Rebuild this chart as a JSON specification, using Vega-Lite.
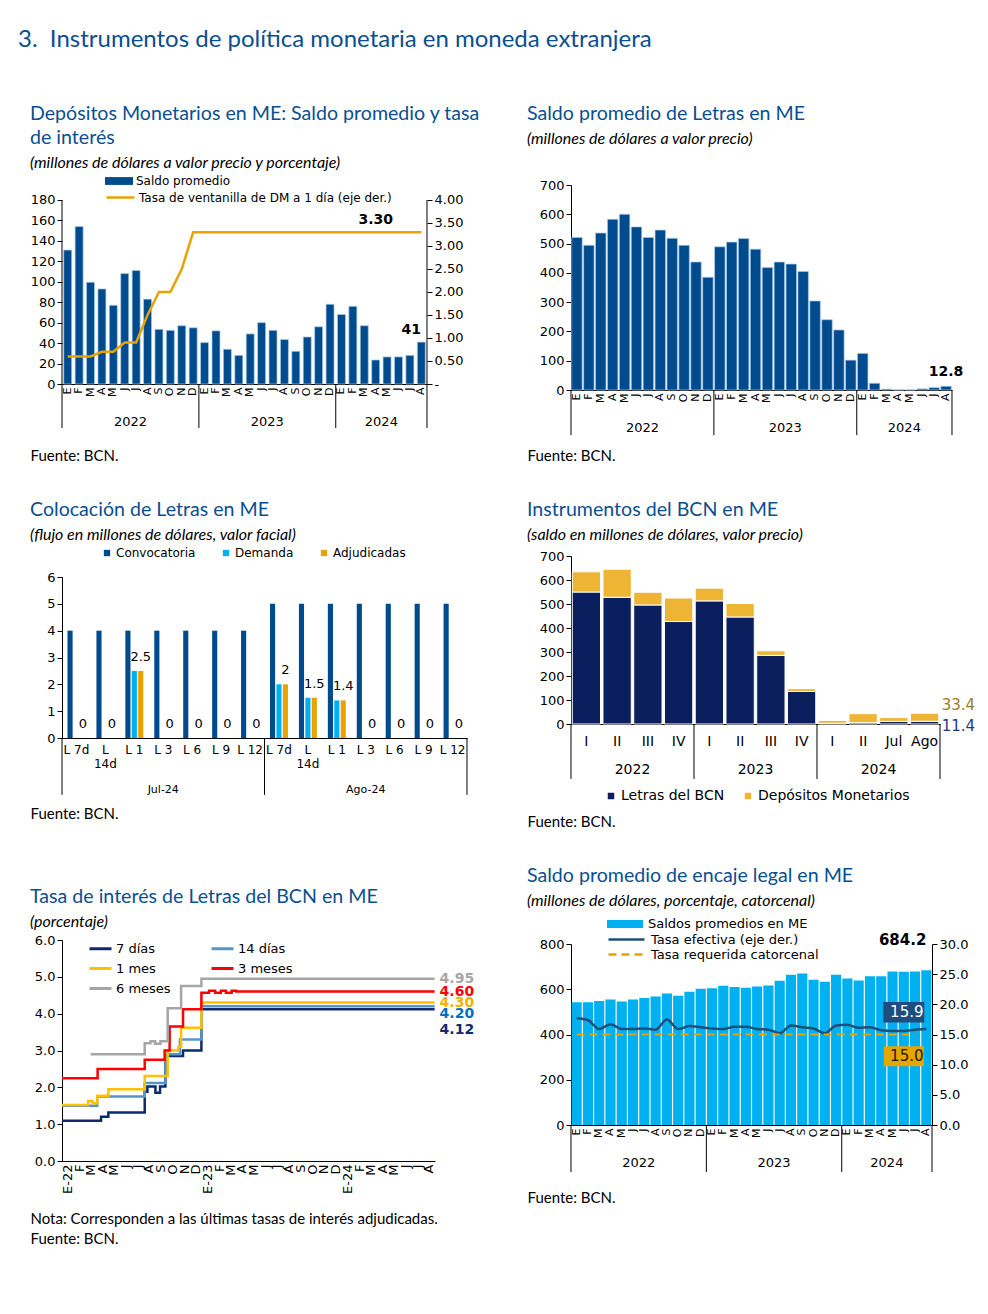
{
"$schema":"https://vega.github.io/schema/vega-lite/v6.json",
"background":"white",
"padding":{"left":18,"top":28,"right":5,"bottom":5},
"title":{"text":"3.\u00a0 Instrumentos de política monetaria en moneda extranjera","anchor":"start","font":"Lato","fontSize":24,"fontWeight":"normal","color":"#0A4F8F","offset":52,"dx":-12},
"config":{
 "view":{"stroke":null},
 "font":"DejaVu Sans",
 "axis":{"labelFont":"DejaVu Sans","labelFontSize":13,"labelColor":"#000","domainColor":"#000","tickColor":"#000","tickSize":5,"labelPadding":2,"grid":false,"titleFont":"Lato","titleFontSize":15,"titleFontWeight":"normal","titleColor":"#000"},
 "legend":{"labelFont":"DejaVu Sans","labelFontSize":12,"labelColor":"#000","labelLimit":400},
 "text":{"font":"DejaVu Sans"},
 "title":{"font":"Lato","fontSize":19.6,"fontWeight":"normal","color":"#0A4F8F","anchor":"start","lineHeight":24,"subtitleFont":"Lato","subtitleFontSize":16,"subtitleFontStyle":"italic","subtitleColor":"#000","subtitlePadding":6}
},
"columns":2,
"align":{"row":"none","column":"each"},
"spacing":{"row":37,"column":46},
"resolve":{"scale":{"color":"independent","fill":"independent","stroke":"independent","strokeDash":"independent"}},
"concat":[
 {
  "width":365,"height":199,
  "title":{"text":["Depósitos Monetarios en ME: Saldo promedio y tasa","de interés"],"subtitle":"(millones de dólares a valor precio y porcentaje)","offset":-5},
  "data":{"values":[
   {"m":"2022-01","saldo":131,"tasa":0.6},{"m":"2022-02","saldo":154,"tasa":0.6},{"m":"2022-03","saldo":99.5,"tasa":0.6},{"m":"2022-04","saldo":93,"tasa":0.7},
   {"m":"2022-05","saldo":77,"tasa":0.7},{"m":"2022-06","saldo":108,"tasa":0.9},{"m":"2022-07","saldo":111,"tasa":0.9},{"m":"2022-08","saldo":83,"tasa":1.5},
   {"m":"2022-09","saldo":53.5,"tasa":2.0},{"m":"2022-10","saldo":52.5,"tasa":2.0},{"m":"2022-11","saldo":57,"tasa":2.5},{"m":"2022-12","saldo":55,"tasa":3.3},
   {"m":"2023-01","saldo":40.5,"tasa":3.3},{"m":"2023-02","saldo":52,"tasa":3.3},{"m":"2023-03","saldo":34,"tasa":3.3},{"m":"2023-04","saldo":28,"tasa":3.3},
   {"m":"2023-05","saldo":49,"tasa":3.3},{"m":"2023-06","saldo":60,"tasa":3.3},{"m":"2023-07","saldo":52.5,"tasa":3.3},{"m":"2023-08","saldo":43.5,"tasa":3.3},
   {"m":"2023-09","saldo":32,"tasa":3.3},{"m":"2023-10","saldo":46,"tasa":3.3},{"m":"2023-11","saldo":56,"tasa":3.3},{"m":"2023-12","saldo":78,"tasa":3.3},
   {"m":"2024-01","saldo":68,"tasa":3.3},{"m":"2024-02","saldo":76,"tasa":3.3},{"m":"2024-03","saldo":57,"tasa":3.3},{"m":"2024-04","saldo":23.5,"tasa":3.3},
   {"m":"2024-05","saldo":26.5,"tasa":3.3},{"m":"2024-06","saldo":26.5,"tasa":3.3},{"m":"2024-07","saldo":28,"tasa":3.3},{"m":"2024-08","saldo":41,"tasa":3.3}
  ]},
  "layer":[
    {"mark":{"type":"bar","stroke":"#A9CBEA","strokeWidth":0.7},
     "encoding":{
      "x":{"field":"m","type":"ordinal","scale":{"paddingInner":0.3,"paddingOuter":0.15},"axis":{"orient":"bottom","title":"Fuente: BCN.","titleX":-32,"titleY":64,"titleAlign":"left","titleBaseline":"top","titleAngle":0,"ticks":false,"labelAngle":-90,"labelPadding":3,"labelFontSize":11,"labelOverlap":false,"labelExpr":"['E','F','M','A','M','J','J','A','S','O','N','D'][toNumber(substring(datum.value,5,7))-1]"}},
      "y":{"field":"saldo","type":"quantitative","scale":{"domain":[0,194.67]},"axis":{"orient":"left","title":null,"domain":false,"values":[0,20,40,60,80,100,120,140,160,180]}},
      "fill":{"datum":"Saldo promedio","type":"nominal","scale":{"range":["#004B8D"]},"legend":{"orient":"none","legendX":43,"legendY":-18,"title":null,"symbolType":"M-1,-0.28H1V0.28H-1Z","symbolSize":784,"symbolStrokeWidth":0,"labelOffset":3}}
     }},
    {"transform":[{"filter":"datum.m=='2024-08'"}],"mark":{"type":"text","fontWeight":"bold","fontSize":14,"baseline":"bottom","dx":-10,"dy":-5},
     "encoding":{"x":{"field":"m","type":"ordinal","axis":null},"y":{"field":"saldo","type":"quantitative","scale":{"domain":[0,194.67]},"axis":null},"text":{"field":"saldo","type":"quantitative","format":".0f"}}},
    {"transform":[{"filter":"datum.m=='2022-01'"}],"mark":{"type":"rule","color":"#000","strokeWidth":1},
     "encoding":{"x":{"field":"m","type":"ordinal","bandPosition":-0.214,"axis":null},"y":{"datum":180,"type":"quantitative","scale":{"domain":[0,194.67]},"axis":null},"y2":{"datum":-43}}},
    {"transform":[{"filter":"datum.m=='2023-01' || datum.m=='2024-01'"}],"mark":{"type":"rule","color":"#000","strokeWidth":1},
     "encoding":{"x":{"field":"m","type":"ordinal","bandPosition":-0.214,"axis":null},"y":{"datum":0,"type":"quantitative","scale":{"domain":[0,194.67]},"axis":null},"y2":{"datum":-43}}},
    {"transform":[{"filter":"datum.m=='2024-08'"}],"mark":{"type":"rule","color":"#000","strokeWidth":1},
     "encoding":{"x":{"field":"m","type":"ordinal","bandPosition":1.214,"axis":null},"y":{"datum":180,"type":"quantitative","scale":{"domain":[0,194.67]},"axis":null},"y2":{"datum":-43}}},
    {"transform":[{"filter":"indexof(['2022-07','2023-07','2024-05'],datum.m)>=0"},{"calculate":"substring(datum.m,0,4)","as":"yr"}],"mark":{"type":"text","fontSize":13,"baseline":"middle"},
     "encoding":{"x":{"field":"m","type":"ordinal","bandPosition":-0.214,"axis":null},"y":{"datum":-37,"type":"quantitative","scale":{"domain":[0,194.67]},"axis":null},"text":{"field":"yr","type":"nominal"}}},
    {"mark":{"type":"line","strokeWidth":2.5},"encoding":{
      "x":{"field":"m","type":"ordinal","axis":null},
      "y":{"field":"tasa","type":"quantitative","scale":{"domain":[0,4.326]},"axis":{"orient":"right","title":null,"domain":false,"values":[0,0.5,1,1.5,2,2.5,3,3.5,4],"labelExpr":"datum.value==0?'-':format(datum.value,'.2f')"}},
      "stroke":{"datum":"Tasa de ventanilla de DM a 1 día (eje der.)","type":"nominal","scale":{"range":["#E8A202"]},"legend":{"orient":"none","legendX":43,"legendY":-3,"title":null,"symbolType":"stroke","symbolSize":784,"symbolStrokeWidth":2.5,"labelOffset":3}}
    }},
    {"transform":[{"filter":"datum.m=='2024-04'"}],"mark":{"type":"text","fontWeight":"bold","fontSize":14,"baseline":"bottom","dy":-5},
     "encoding":{"x":{"field":"m","type":"ordinal","axis":null},"y":{"field":"tasa","type":"quantitative","scale":{"domain":[0,4.326]},"axis":null},"text":{"field":"tasa","type":"quantitative","format":".2f"}}}
  ],
  "resolve":{"scale":{"y":"independent"},"axis":{"x":"independent","y":"independent"}}
 },
 {
  "width":381,"height":205,
  "title":{"text":"Saldo promedio de Letras en ME","subtitle":"(millones de dólares a valor precio)","offset":31},
  "data":{"values":[
   {"m":"2022-01","saldo":521},{"m":"2022-02","saldo":494},{"m":"2022-03","saldo":536},{"m":"2022-04","saldo":583},{"m":"2022-05","saldo":600},{"m":"2022-06","saldo":557},
   {"m":"2022-07","saldo":521},{"m":"2022-08","saldo":546},{"m":"2022-09","saldo":518},{"m":"2022-10","saldo":494},{"m":"2022-11","saldo":437},{"m":"2022-12","saldo":385},
   {"m":"2023-01","saldo":489},{"m":"2023-02","saldo":505},{"m":"2023-03","saldo":517},{"m":"2023-04","saldo":481},{"m":"2023-05","saldo":418},{"m":"2023-06","saldo":437},
   {"m":"2023-07","saldo":430},{"m":"2023-08","saldo":405},{"m":"2023-09","saldo":304},{"m":"2023-10","saldo":240},{"m":"2023-11","saldo":205},{"m":"2023-12","saldo":102},
   {"m":"2024-01","saldo":125},{"m":"2024-02","saldo":23},{"m":"2024-03","saldo":3},{"m":"2024-04","saldo":0.5},{"m":"2024-05","saldo":0.5},{"m":"2024-06","saldo":4},
   {"m":"2024-07","saldo":8},{"m":"2024-08","saldo":12.8}
  ]},
  "layer":[
   {"mark":{"type":"bar","color":"#004B8D","stroke":"#A9CBEA","strokeWidth":0.7},
    "encoding":{
     "x":{"field":"m","type":"ordinal","scale":{"paddingInner":0.12,"paddingOuter":0.06},"axis":{"orient":"bottom","title":"Fuente: BCN.","titleX":-44,"titleY":58,"titleAlign":"left","titleBaseline":"top","titleAngle":0,"ticks":false,"labelAngle":-90,"labelPadding":3,"labelFontSize":11,"labelOverlap":false,"labelExpr":"['E','F','M','A','M','J','J','A','S','O','N','D'][toNumber(substring(datum.value,5,7))-1]"}},
     "y":{"field":"saldo","type":"quantitative","scale":{"domain":[0,700]},"axis":{"title":null,"values":[0,100,200,300,400,500,600,700]}}}},
   {"transform":[{"filter":"datum.m=='2024-08'"}],"mark":{"type":"text","fontWeight":"bold","fontSize":14,"baseline":"bottom","dy":-7},
    "encoding":{"x":{"field":"m","type":"ordinal","axis":null},"y":{"field":"saldo","type":"quantitative","axis":null},"text":{"field":"saldo","type":"quantitative","format":".1f"}}},
   {"transform":[{"filter":"indexof(['2022-01','2023-01','2024-01'],datum.m)>=0"}],"mark":{"type":"rule","color":"#000","strokeWidth":1},
    "encoding":{"x":{"field":"m","type":"ordinal","bandPosition":-0.068,"axis":null},"y":{"datum":0,"type":"quantitative","axis":null},"y2":{"datum":-154}}},
   {"transform":[{"filter":"datum.m=='2024-08'"}],"mark":{"type":"rule","color":"#000","strokeWidth":1},
    "encoding":{"x":{"field":"m","type":"ordinal","bandPosition":1.068,"axis":null},"y":{"datum":0,"type":"quantitative","axis":null},"y2":{"datum":-154}}},
   {"transform":[{"filter":"indexof(['2022-07','2023-07','2024-05'],datum.m)>=0"},{"calculate":"substring(datum.m,0,4)","as":"yr"}],"mark":{"type":"text","fontSize":13,"baseline":"middle"},
    "encoding":{"x":{"field":"m","type":"ordinal","bandPosition":-0.068,"axis":null},"y":{"datum":-130,"type":"quantitative","axis":null},"text":{"field":"yr","type":"nominal"}}}
  ],
  "resolve":{"axis":{"x":"independent","y":"independent"}}
 },
 {
  "width":405,"height":161,
  "title":{"text":"Colocación de Letras en ME","subtitle":"(flujo en millones de dólares, valor facial)","offset":3},
  "data":{"values":[
   {"k":"Jul-24|L 7d","s":"Convocatoria","v":4},{"k":"Jul-24|L 7d","s":"Demanda","v":0},{"k":"Jul-24|L 7d","s":"Adjudicadas","v":0},
   {"k":"Jul-24|L 14d","s":"Convocatoria","v":4},{"k":"Jul-24|L 14d","s":"Demanda","v":0},{"k":"Jul-24|L 14d","s":"Adjudicadas","v":0},
   {"k":"Jul-24|L 1","s":"Convocatoria","v":4},{"k":"Jul-24|L 1","s":"Demanda","v":2.5},{"k":"Jul-24|L 1","s":"Adjudicadas","v":2.5},
   {"k":"Jul-24|L 3","s":"Convocatoria","v":4},{"k":"Jul-24|L 3","s":"Demanda","v":0},{"k":"Jul-24|L 3","s":"Adjudicadas","v":0},
   {"k":"Jul-24|L 6","s":"Convocatoria","v":4},{"k":"Jul-24|L 6","s":"Demanda","v":0},{"k":"Jul-24|L 6","s":"Adjudicadas","v":0},
   {"k":"Jul-24|L 9","s":"Convocatoria","v":4},{"k":"Jul-24|L 9","s":"Demanda","v":0},{"k":"Jul-24|L 9","s":"Adjudicadas","v":0},
   {"k":"Jul-24|L 12","s":"Convocatoria","v":4},{"k":"Jul-24|L 12","s":"Demanda","v":0},{"k":"Jul-24|L 12","s":"Adjudicadas","v":0},
   {"k":"Ago-24|L 7d","s":"Convocatoria","v":5},{"k":"Ago-24|L 7d","s":"Demanda","v":2},{"k":"Ago-24|L 7d","s":"Adjudicadas","v":2},
   {"k":"Ago-24|L 14d","s":"Convocatoria","v":5},{"k":"Ago-24|L 14d","s":"Demanda","v":1.5},{"k":"Ago-24|L 14d","s":"Adjudicadas","v":1.5},
   {"k":"Ago-24|L 1","s":"Convocatoria","v":5},{"k":"Ago-24|L 1","s":"Demanda","v":1.4},{"k":"Ago-24|L 1","s":"Adjudicadas","v":1.4},
   {"k":"Ago-24|L 3","s":"Convocatoria","v":5},{"k":"Ago-24|L 3","s":"Demanda","v":0},{"k":"Ago-24|L 3","s":"Adjudicadas","v":0},
   {"k":"Ago-24|L 6","s":"Convocatoria","v":5},{"k":"Ago-24|L 6","s":"Demanda","v":0},{"k":"Ago-24|L 6","s":"Adjudicadas","v":0},
   {"k":"Ago-24|L 9","s":"Convocatoria","v":5},{"k":"Ago-24|L 9","s":"Demanda","v":0},{"k":"Ago-24|L 9","s":"Adjudicadas","v":0},
   {"k":"Ago-24|L 12","s":"Convocatoria","v":5},{"k":"Ago-24|L 12","s":"Demanda","v":0},{"k":"Ago-24|L 12","s":"Adjudicadas","v":0}
  ]},
  "layer":[
   {"mark":{"type":"bar"},"encoding":{
     "x":{"field":"k","type":"nominal","scale":{"domain":["Jul-24|L 7d","Jul-24|L 14d","Jul-24|L 1","Jul-24|L 3","Jul-24|L 6","Jul-24|L 9","Jul-24|L 12","Ago-24|L 7d","Ago-24|L 14d","Ago-24|L 1","Ago-24|L 3","Ago-24|L 6","Ago-24|L 9","Ago-24|L 12"],"paddingInner":0.38,"paddingOuter":0.19},
          "axis":{"orient":"bottom","title":"Fuente: BCN.","titleX":-32,"titleY":68,"titleAlign":"left","titleBaseline":"top","titleAngle":0,"ticks":false,"labelAngle":0,"labelPadding":6,"labelFontSize":12,"labelLineHeight":14,"labelOverlap":false,"labelExpr":"indexof(datum.value,'14d')>=0 ? ['L','14d'] : substring(datum.value,7)"}},
     "xOffset":{"field":"s","type":"nominal","scale":{"domain":["Convocatoria","Demanda","Adjudicadas"],"paddingInner":0.2}},
     "y":{"field":"v","type":"quantitative","scale":{"domain":[0,6]},"axis":{"title":null,"values":[0,1,2,3,4,5,6]}},
     "color":{"field":"s","type":"nominal","scale":{"domain":["Convocatoria","Demanda","Adjudicadas"],"range":["#004B8D","#00B0F0","#E8A202"]},"legend":{"orient":"none","direction":"horizontal","legendX":39,"legendY":-30,"title":null,"symbolType":"square","symbolSize":40,"columnPadding":24,"labelOffset":3}}
   }},
   {"transform":[{"filter":"datum.s=='Adjudicadas'"}],"mark":{"type":"text","fontSize":13,"baseline":"bottom","dy":-7},
    "encoding":{"x":{"field":"k","type":"nominal","axis":null},"xOffset":{"field":"s","type":"nominal"},"y":{"field":"v","type":"quantitative","axis":null},"text":{"field":"v","type":"quantitative"}}},
   {"transform":[{"filter":"datum.s=='Convocatoria' && indexof(['Jul-24|L 7d','Ago-24|L 7d'],datum.k)>=0"}],"mark":{"type":"rule","color":"#000","strokeWidth":1},
    "encoding":{"x":{"field":"k","type":"nominal","bandPosition":-0.306,"axis":null},"y":{"datum":0,"type":"quantitative","axis":null},"y2":{"datum":-2.12}}},
   {"transform":[{"filter":"datum.s=='Convocatoria' && datum.k=='Ago-24|L 12'"}],"mark":{"type":"rule","color":"#000","strokeWidth":1},
    "encoding":{"x":{"field":"k","type":"nominal","bandPosition":1.306,"axis":null},"y":{"datum":0,"type":"quantitative","axis":null},"y2":{"datum":-2.12}}},
   {"transform":[{"filter":"datum.s=='Convocatoria' && indexof(['Jul-24|L 3','Ago-24|L 3'],datum.k)>=0"},{"calculate":"substring(datum.k,0,6)","as":"grp"}],"mark":{"type":"text","fontSize":11,"baseline":"middle"},
    "encoding":{"x":{"field":"k","type":"nominal","axis":null},"y":{"datum":-1.94,"type":"quantitative","axis":null},"text":{"field":"grp","type":"nominal"}}}
  ],
  "resolve":{"axis":{"x":"independent","y":"independent"}}
 },
 {
  "width":369,"height":168,
  "title":{"text":"Instrumentos del BCN en ME","subtitle":"(saldo en millones de dólares, valor precio)","offset":6},
  "data":{"values":[
   {"k":"2022|I","s":"Letras del BCN","v":550},{"k":"2022|I","s":"Depósitos Monetarios","v":84},
   {"k":"2022|II","s":"Letras del BCN","v":528},{"k":"2022|II","s":"Depósitos Monetarios","v":117},
   {"k":"2022|III","s":"Letras del BCN","v":496},{"k":"2022|III","s":"Depósitos Monetarios","v":53},
   {"k":"2022|IV","s":"Letras del BCN","v":427},{"k":"2022|IV","s":"Depósitos Monetarios","v":98},
   {"k":"2023|I","s":"Letras del BCN","v":513},{"k":"2023|I","s":"Depósitos Monetarios","v":53},
   {"k":"2023|II","s":"Letras del BCN","v":446},{"k":"2023|II","s":"Depósitos Monetarios","v":56},
   {"k":"2023|III","s":"Letras del BCN","v":286},{"k":"2023|III","s":"Depósitos Monetarios","v":19},
   {"k":"2023|IV","s":"Letras del BCN","v":135.5},{"k":"2023|IV","s":"Depósitos Monetarios","v":11.5},
   {"k":"2024|I","s":"Letras del BCN","v":3},{"k":"2024|I","s":"Depósitos Monetarios","v":12},
   {"k":"2024|II","s":"Letras del BCN","v":5.6},{"k":"2024|II","s":"Depósitos Monetarios","v":37.4},
   {"k":"2024|Jul","s":"Letras del BCN","v":11},{"k":"2024|Jul","s":"Depósitos Monetarios","v":15.5},
   {"k":"2024|Ago","s":"Letras del BCN","v":11.4},{"k":"2024|Ago","s":"Depósitos Monetarios","v":33.4}
  ]},
  "layer":[
   {"mark":{"type":"bar","stroke":"white","strokeWidth":1},"encoding":{
     "x":{"field":"k","type":"nominal","scale":{"domain":["2022|I","2022|II","2022|III","2022|IV","2023|I","2023|II","2023|III","2023|IV","2024|I","2024|II","2024|Jul","2024|Ago"],"paddingInner":0.08,"paddingOuter":0.04},
          "axis":{"orient":"bottom","title":"Fuente: BCN.","titleX":-44,"titleY":90,"titleAlign":"left","titleBaseline":"top","titleAngle":0,"ticks":false,"labelAngle":0,"labelPadding":10,"labelFontSize":14,"labelOverlap":false,"labelExpr":"substring(datum.value,5)"}},
     "y":{"field":"v","type":"quantitative","stack":"zero","scale":{"domain":[0,700]},"axis":{"title":null,"values":[0,100,200,300,400,500,600,700]}},
     "color":{"field":"s","type":"nominal","scale":{"domain":["Letras del BCN","Depósitos Monetarios"],"range":["#0B1F5E","#EEB534"]},"legend":{"orient":"none","direction":"horizontal","legendX":33,"legendY":233,"title":null,"symbolType":"square","symbolSize":64,"labelFontSize":14,"columnPadding":16,"labelOffset":3}},
     "order":{"field":"s","type":"nominal","sort":"descending"}
   }},
   {"transform":[{"joinaggregate":[{"op":"sum","field":"v","as":"tot"}],"groupby":["k"]},{"filter":"datum.k=='2024|Ago' && datum.s=='Depósitos Monetarios'"}],
    "mark":{"type":"text","fontSize":15,"align":"left","dx":17,"dy":-8,"color":"#9C7A2A"},
    "encoding":{"x":{"field":"k","type":"nominal","axis":null},"y":{"field":"tot","type":"quantitative","axis":null},"text":{"field":"v","type":"quantitative","format":".1f"}}},
   {"transform":[{"filter":"datum.k=='2024|Ago' && datum.s=='Letras del BCN'"}],
    "mark":{"type":"text","fontSize":15,"align":"left","dx":17,"dy":5,"color":"#1F3A7A"},
    "encoding":{"x":{"field":"k","type":"nominal","axis":null},"y":{"field":"v","type":"quantitative","axis":null},"text":{"field":"v","type":"quantitative","format":".1f"}}},
   {"transform":[{"filter":"datum.s=='Letras del BCN' && indexof(['2022|I','2023|I','2024|I'],datum.k)>=0"}],"mark":{"type":"rule","color":"#000","strokeWidth":1},
    "encoding":{"x":{"field":"k","type":"nominal","bandPosition":-0.0435,"axis":null},"y":{"datum":0,"type":"quantitative","axis":null},"y2":{"datum":-229}}},
   {"transform":[{"filter":"datum.s=='Letras del BCN' && datum.k=='2024|Ago'"}],"mark":{"type":"rule","color":"#000","strokeWidth":1},
    "encoding":{"x":{"field":"k","type":"nominal","bandPosition":1.0435,"axis":null},"y":{"datum":0,"type":"quantitative","axis":null},"y2":{"datum":-229}}},
   {"transform":[{"filter":"datum.s=='Letras del BCN' && indexof(['2022|III','2023|III','2024|Jul'],datum.k)>=0"},{"calculate":"substring(datum.k,0,4)","as":"yr"}],"mark":{"type":"text","fontSize":14,"baseline":"middle"},
    "encoding":{"x":{"field":"k","type":"nominal","bandPosition":-0.0435,"axis":null},"y":{"datum":-192,"type":"quantitative","axis":null},"text":{"field":"yr","type":"nominal"}}}
  ],
  "resolve":{"axis":{"x":"independent","y":"independent"}}
 },
 {
  "width":373,"height":221,
  "title":{"text":"Tasa de interés de Letras del BCN en ME","subtitle":"(porcentaje)","offset":3},
  "data":{"values":[
   {"s":"7 días","d":"2022-01-01","v":1.09},{"s":"7 días","d":"2022-04-13","v":1.2},{"s":"7 días","d":"2022-05-02","v":1.32},{"s":"7 días","d":"2022-08-05","v":1.88},
   {"s":"7 días","d":"2022-08-12","v":2.02},{"s":"7 días","d":"2022-09-02","v":1.85},{"s":"7 días","d":"2022-09-14","v":2.02},{"s":"7 días","d":"2022-09-28","v":2.85},
   {"s":"7 días","d":"2022-11-13","v":3.0},{"s":"7 días","d":"2022-12-31","v":4.12},{"s":"7 días","d":"2024-08-31","v":4.12},
   {"s":"14 días","d":"2022-01-01","v":1.5},{"s":"14 días","d":"2022-04-03","v":1.75},{"s":"14 días","d":"2022-08-05","v":2.12},{"s":"14 días","d":"2022-09-28","v":2.9},
   {"s":"14 días","d":"2022-11-05","v":3.3},{"s":"14 días","d":"2022-12-31","v":4.2},{"s":"14 días","d":"2024-08-31","v":4.2},
   {"s":"1 mes","d":"2022-01-01","v":1.52},{"s":"1 mes","d":"2022-03-10","v":1.63},{"s":"1 mes","d":"2022-03-22","v":1.57},{"s":"1 mes","d":"2022-04-03","v":1.77},
   {"s":"1 mes","d":"2022-05-02","v":1.95},{"s":"1 mes","d":"2022-08-05","v":2.31},{"s":"1 mes","d":"2022-10-04","v":3.0},{"s":"1 mes","d":"2022-11-01","v":3.1},
   {"s":"1 mes","d":"2022-11-08","v":3.62},{"s":"1 mes","d":"2022-12-31","v":4.3},{"s":"1 mes","d":"2024-08-31","v":4.3},
   {"s":"3 meses","d":"2022-01-01","v":2.25},{"s":"3 meses","d":"2022-04-04","v":2.5},{"s":"3 meses","d":"2022-08-05","v":2.75},{"s":"3 meses","d":"2022-09-26","v":3.0},
   {"s":"3 meses","d":"2022-10-09","v":3.65},{"s":"3 meses","d":"2022-11-13","v":4.12},{"s":"3 meses","d":"2022-12-31","v":4.57},{"s":"3 meses","d":"2023-01-20","v":4.62},
   {"s":"3 meses","d":"2023-02-05","v":4.57},{"s":"3 meses","d":"2023-02-20","v":4.62},{"s":"3 meses","d":"2023-03-05","v":4.57},{"s":"3 meses","d":"2023-03-20","v":4.62},
   {"s":"3 meses","d":"2023-04-01","v":4.6},{"s":"3 meses","d":"2024-08-31","v":4.6},
   {"s":"6 meses","d":"2022-03-17","v":2.9},{"s":"6 meses","d":"2022-08-05","v":3.2},{"s":"6 meses","d":"2022-08-20","v":3.25},{"s":"6 meses","d":"2022-09-01","v":3.18},
   {"s":"6 meses","d":"2022-09-15","v":3.25},{"s":"6 meses","d":"2022-10-04","v":4.15},{"s":"6 meses","d":"2022-11-08","v":4.75},{"s":"6 meses","d":"2022-12-31","v":4.95},
   {"s":"6 meses","d":"2024-08-31","v":4.95}
  ]},
  "layer":[
   {"mark":{"type":"line","interpolate":"step-after","strokeWidth":2.5},"encoding":{
     "x":{"field":"d","type":"temporal","scale":{"domain":[{"year":2022,"month":1,"date":1},{"year":2024,"month":9,"date":1}]},
          "axis":{"title":["Nota: Corresponden a las últimas tasas de interés adjudicadas.","Fuente: BCN."],"titleX":-32,"titleY":50,"titleAlign":"left","titleBaseline":"top","titleAngle":0,"titleLineHeight":20,
          "ticks":false,"labelAngle":-90,"labelPadding":3,"labelFontSize":13,"labelOverlap":false,"labelFlush":false,
          "values":[{"year":2022,"month":1,"date":16},{"year":2022,"month":2,"date":16},{"year":2022,"month":3,"date":16},{"year":2022,"month":4,"date":16},{"year":2022,"month":5,"date":16},{"year":2022,"month":6,"date":16},{"year":2022,"month":7,"date":16},{"year":2022,"month":8,"date":16},{"year":2022,"month":9,"date":16},{"year":2022,"month":10,"date":16},{"year":2022,"month":11,"date":16},{"year":2022,"month":12,"date":16},
                    {"year":2023,"month":1,"date":16},{"year":2023,"month":2,"date":16},{"year":2023,"month":3,"date":16},{"year":2023,"month":4,"date":16},{"year":2023,"month":5,"date":16},{"year":2023,"month":6,"date":16},{"year":2023,"month":7,"date":16},{"year":2023,"month":8,"date":16},{"year":2023,"month":9,"date":16},{"year":2023,"month":10,"date":16},{"year":2023,"month":11,"date":16},{"year":2023,"month":12,"date":16},
                    {"year":2024,"month":1,"date":16},{"year":2024,"month":2,"date":16},{"year":2024,"month":3,"date":16},{"year":2024,"month":4,"date":16},{"year":2024,"month":5,"date":16},{"year":2024,"month":6,"date":16},{"year":2024,"month":7,"date":16},{"year":2024,"month":8,"date":16}],
          "labelExpr":"month(datum.value)==0 ? 'E-'+timeFormat(datum.value,'%y') : ['E','F','M','A','M','J','J','A','S','O','N','D'][month(datum.value)]"}},
     "y":{"field":"v","type":"quantitative","scale":{"domain":[0,6]},"axis":{"title":null,"values":[0,1,2,3,4,5,6],"format":".1f"}},
     "color":{"field":"s","type":"nominal","scale":{"domain":["7 días","1 mes","6 meses","14 días","3 meses"],"range":["#0D2A6E","#FFC000","#A6A6A6","#5496C8","#FF0000"]},
              "legend":{"orient":"none","legendX":26,"legendY":-4,"title":null,"columns":2,"symbolType":"stroke","symbolSize":484,"symbolStrokeWidth":3,"labelFontSize":13,"columnPadding":34,"rowPadding":-2,"labelOffset":3}}
   }},
   {"transform":[{"filter":"datum.s=='6 meses' && time(datum.d)==time('2024-08-31')"}],"mark":{"type":"text","align":"left","dx":5,"fontWeight":"bold","fontSize":14,"color":"#A6A6A6"},
    "encoding":{"x":{"field":"d","type":"temporal","axis":null},"y":{"field":"v","type":"quantitative","axis":null},"text":{"field":"v","type":"quantitative","format":".2f"}}},
   {"transform":[{"filter":"datum.s=='3 meses' && time(datum.d)==time('2024-08-31')"}],"mark":{"type":"text","align":"left","dx":5,"fontWeight":"bold","fontSize":14,"color":"#FF0000"},
    "encoding":{"x":{"field":"d","type":"temporal","axis":null},"y":{"field":"v","type":"quantitative","axis":null},"text":{"field":"v","type":"quantitative","format":".2f"}}},
   {"transform":[{"filter":"datum.s=='1 mes' && time(datum.d)==time('2024-08-31')"}],"mark":{"type":"text","align":"left","dx":5,"fontWeight":"bold","fontSize":14,"color":"#F2B200"},
    "encoding":{"x":{"field":"d","type":"temporal","axis":null},"y":{"field":"v","type":"quantitative","axis":null},"text":{"field":"v","type":"quantitative","format":".2f"}}},
   {"transform":[{"filter":"datum.s=='14 días' && time(datum.d)==time('2024-08-31')"}],"mark":{"type":"text","align":"left","dx":5,"dy":8,"fontWeight":"bold","fontSize":14,"color":"#0070C0"},
    "encoding":{"x":{"field":"d","type":"temporal","axis":null},"y":{"field":"v","type":"quantitative","axis":null},"text":{"field":"v","type":"quantitative","format":".2f"}}},
   {"transform":[{"filter":"datum.s=='7 días' && time(datum.d)==time('2024-08-31')"}],"mark":{"type":"text","align":"left","dx":5,"dy":21,"fontWeight":"bold","fontSize":14,"color":"#0D2A6E"},
    "encoding":{"x":{"field":"d","type":"temporal","axis":null},"y":{"field":"v","type":"quantitative","axis":null},"text":{"field":"v","type":"quantitative","format":".2f"}}}
  ],
  "resolve":{"axis":{"x":"independent","y":"independent"}}
 },
 {
  "width":361,"height":181,
  "title":{"text":"Saldo promedio de encaje legal en ME","subtitle":"(millones de dólares, porcentaje, catorcenal)","offset":-4},
  "data":{"values":[
   {"m":"2022-01","saldo":542,"tasa":17.7,"req":15},{"m":"2022-02","saldo":542,"tasa":17.4,"req":15},{"m":"2022-03","saldo":548,"tasa":15.9,"req":15},{"m":"2022-04","saldo":555,"tasa":16.7,"req":15},
   {"m":"2022-05","saldo":546,"tasa":15.9,"req":15},{"m":"2022-06","saldo":555,"tasa":15.9,"req":15},{"m":"2022-07","saldo":561,"tasa":16.0,"req":15},{"m":"2022-08","saldo":568,"tasa":15.8,"req":15},
   {"m":"2022-09","saldo":581,"tasa":17.5,"req":15},{"m":"2022-10","saldo":571,"tasa":15.9,"req":15},{"m":"2022-11","saldo":589,"tasa":16.4,"req":15},{"m":"2022-12","saldo":602,"tasa":16.2,"req":15},
   {"m":"2023-01","saldo":604,"tasa":16.0,"req":15},{"m":"2023-02","saldo":615,"tasa":15.9,"req":15},{"m":"2023-03","saldo":610,"tasa":16.3,"req":15},{"m":"2023-04","saldo":607,"tasa":16.3,"req":15},
   {"m":"2023-05","saldo":612,"tasa":15.9,"req":15},{"m":"2023-06","saldo":617,"tasa":15.8,"req":15},{"m":"2023-07","saldo":638,"tasa":15.2,"req":15},{"m":"2023-08","saldo":664,"tasa":16.5,"req":15},
   {"m":"2023-09","saldo":670,"tasa":16.2,"req":15},{"m":"2023-10","saldo":642,"tasa":16.0,"req":15},{"m":"2023-11","saldo":633,"tasa":15.2,"req":15},{"m":"2023-12","saldo":664,"tasa":16.5,"req":15},
   {"m":"2024-01","saldo":648,"tasa":16.6,"req":15},{"m":"2024-02","saldo":639,"tasa":16.1,"req":15},{"m":"2024-03","saldo":657,"tasa":16.2,"req":15},{"m":"2024-04","saldo":658,"tasa":15.7,"req":15},
   {"m":"2024-05","saldo":679,"tasa":15.6,"req":15},{"m":"2024-06","saldo":677,"tasa":15.6,"req":15},{"m":"2024-07","saldo":679,"tasa":15.8,"req":15},{"m":"2024-08","saldo":684.2,"tasa":15.9,"req":null}
  ]},
  "layer":[
    {"mark":{"type":"bar"},"encoding":{
      "x":{"field":"m","type":"ordinal","scale":{"paddingInner":0.1,"paddingOuter":0.05},"axis":{"orient":"bottom","title":"Fuente: BCN.","titleX":-44,"titleY":65,"titleAlign":"left","titleBaseline":"top","titleAngle":0,"ticks":false,"labelAngle":-90,"labelPadding":3,"labelFontSize":11,"labelOverlap":false,"labelExpr":"['E','F','M','A','M','J','J','A','S','O','N','D'][toNumber(substring(datum.value,5,7))-1]"}},
      "y":{"field":"saldo","type":"quantitative","scale":{"domain":[0,800]},"axis":{"orient":"left","title":null,"values":[0,200,400,600,800]}},
      "fill":{"datum":"Saldos promedios en ME","type":"nominal","scale":{"range":["#00B0F0"]},"legend":{"orient":"none","legendX":36,"legendY":-38,"title":null,"symbolType":"M-1,-0.22H1V0.22H-1Z","symbolSize":1296,"symbolStrokeWidth":0,"labelFontSize":13,"labelOffset":5}}
    }},
    {"transform":[{"filter":"datum.m=='2024-08'"}],"mark":{"type":"text","fontWeight":"bold","fontSize":15,"align":"right","baseline":"bottom","dy":-22},
     "encoding":{"x":{"field":"m","type":"ordinal","axis":null},"y":{"field":"saldo","type":"quantitative","scale":{"domain":[0,800]},"axis":null},"text":{"field":"saldo","type":"quantitative","format":".1f"}}},
    {"transform":[{"filter":"indexof(['2022-01','2023-01','2024-01'],datum.m)>=0"}],"mark":{"type":"rule","color":"#000","strokeWidth":1},
     "encoding":{"x":{"field":"m","type":"ordinal","bandPosition":-0.0556,"axis":null},"y":{"datum":0,"type":"quantitative","scale":{"domain":[0,800]},"axis":null},"y2":{"datum":-208}}},
    {"transform":[{"filter":"datum.m=='2024-08'"}],"mark":{"type":"rule","color":"#000","strokeWidth":1},
     "encoding":{"x":{"field":"m","type":"ordinal","bandPosition":1.0556,"axis":null},"y":{"datum":0,"type":"quantitative","scale":{"domain":[0,800]},"axis":null},"y2":{"datum":-208}}},
    {"transform":[{"filter":"indexof(['2022-07','2023-07','2024-05'],datum.m)>=0"},{"calculate":"substring(datum.m,0,4)","as":"yr"}],"mark":{"type":"text","fontSize":13,"baseline":"middle"},
     "encoding":{"x":{"field":"m","type":"ordinal","bandPosition":-0.0556,"axis":null},"y":{"datum":-168,"type":"quantitative","scale":{"domain":[0,800]},"axis":null},"text":{"field":"yr","type":"nominal"}}},
    {"mark":{"type":"line","interpolate":"monotone","strokeWidth":2.5},"encoding":{
      "x":{"field":"m","type":"ordinal","axis":null},
      "y":{"field":"tasa","type":"quantitative","scale":{"domain":[0,30]},"axis":{"orient":"right","title":null,"values":[0,5,10,15,20,25,30],"format":".1f"}},
      "stroke":{"datum":"Tasa efectiva (eje der.)","type":"nominal","scale":{"range":["#1F4E79"]},
                "legend":{"orient":"none","legendX":36,"legendY":-24,"title":null,"symbolType":"stroke","symbolSize":1296,"symbolStrokeWidth":2.5,"labelFontSize":13,"labelOffset":5}}
    }},
    {"transform":[{"filter":"isValid(datum.req)"}],"mark":{"type":"line","strokeWidth":2,"color":"#E8A202"},"encoding":{
      "x":{"field":"m","type":"ordinal","axis":null},
      "y":{"field":"req","type":"quantitative","scale":{"domain":[0,30]},"axis":null},
      "strokeDash":{"datum":"Tasa requerida catorcenal","type":"nominal","scale":{"range":[[8,5]]},
                "legend":{"orient":"none","legendX":36,"legendY":-9,"title":null,"symbolType":"stroke","symbolSize":1296,"symbolStrokeWidth":2.5,"symbolStrokeColor":"#E8A202","labelFontSize":13,"labelOffset":5}}
    }},
    {"transform":[{"filter":"datum.m=='2024-08'"}],"mark":{"type":"point","shape":"M-1,-0.5H1V0.5H-1Z","size":1681,"filled":true,"color":"#1D4E7F","opacity":1},
     "encoding":{"x":{"datum":"2024-06","type":"ordinal","axis":null},"y":{"datum":18.7,"type":"quantitative","scale":{"domain":[0,30]},"axis":null}}},
    {"transform":[{"filter":"datum.m=='2024-08'"}],"mark":{"type":"text","color":"white","fontSize":15,"dx":3},
     "encoding":{"x":{"datum":"2024-06","type":"ordinal","axis":null},"y":{"datum":18.7,"type":"quantitative","scale":{"domain":[0,30]},"axis":null},"text":{"field":"tasa","type":"quantitative","format":".1f"}}},
    {"transform":[{"filter":"datum.m=='2024-07'"}],"mark":{"type":"point","shape":"M-1,-0.5H1V0.5H-1Z","size":1600,"filled":true,"color":"#E7A500","opacity":1},
     "encoding":{"x":{"datum":"2024-06","type":"ordinal","axis":null},"y":{"datum":11.4,"type":"quantitative","scale":{"domain":[0,30]},"axis":null}}},
    {"transform":[{"filter":"datum.m=='2024-07'"}],"mark":{"type":"text","color":"#1A1A1A","fontSize":15,"dx":3},
     "encoding":{"x":{"datum":"2024-06","type":"ordinal","axis":null},"y":{"datum":11.4,"type":"quantitative","scale":{"domain":[0,30]},"axis":null},"text":{"field":"req","type":"quantitative","format":".1f"}}}
  ],
  "resolve":{"scale":{"y":"independent"},"axis":{"x":"independent","y":"independent"}}
 }
]
}
